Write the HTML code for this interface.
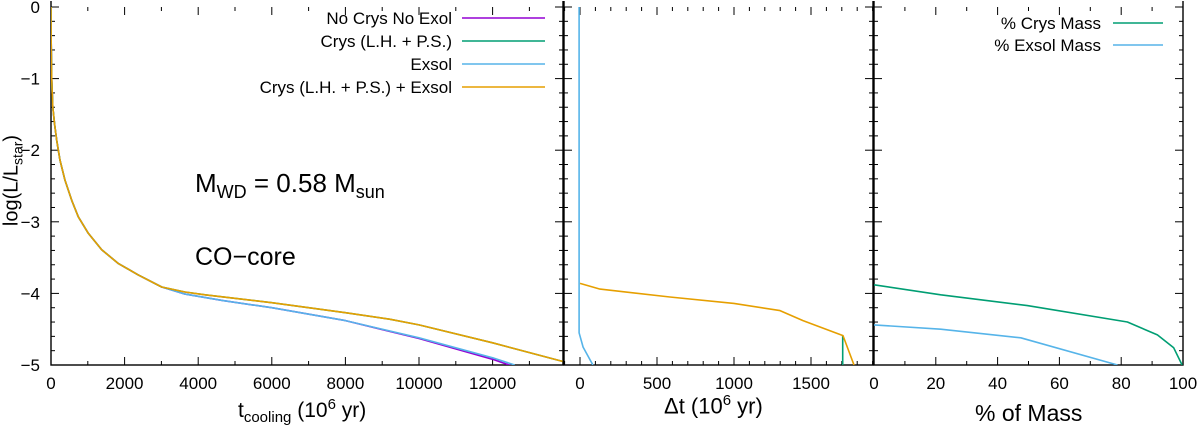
<!DOCTYPE html>
<html><head><meta charset="utf-8"><style>
body{margin:0;background:#fff}
svg{display:block;font-family:"Liberation Sans",sans-serif}
</style></head><body>
<svg id="c" width="1200" height="435" viewBox="0 0 1200 435"></svg>
<script>
const tCool=[0,5,20,50,100,155,245,380,562,742,1014,1378,1820,2364,3008];
const lCool=[0,-0.5,-1.0,-1.4,-1.65,-1.86,-2.14,-2.42,-2.7,-2.93,-3.16,-3.39,-3.58,-3.74,-3.91];
const tOrange=[3641,4185,6000,8000,9200,10000,12000,13900];
const lOrange=[-3.98,-4.02,-4.13,-4.27,-4.36,-4.44,-4.69,-4.95];
const tBlue=[3641,4670,6000,8000,10000,12000,12600];
const lBlue=[-4.01,-4.1,-4.2,-4.38,-4.62,-4.9,-5];
const tPurple=[3641,4670,6000,8000,10000,12000,12500];
const lPurple=[-4.01,-4.1,-4.2,-4.38,-4.63,-4.92,-5.01];
const dtBlue=[-6,-6,20,84];
const lDtBlue=[0,-4.55,-4.75,-5];
const dtOrange=[0,130,584,1000,1299,1448,1708,1779];
const lDtOrange=[-3.86,-3.94,-4.05,-4.14,-4.24,-4.38,-4.59,-5];
const dtGreen=[1706,1706];
const lDtGreen=[-4.59,-5];
const pcCrys=[0,21.6,49.6,82,91.7,97,99.7];
const lCrys=[-3.88,-4.02,-4.17,-4.4,-4.58,-4.76,-5];
const pcExsol=[0,21.6,47.5,78.8];
const lExsol=[-4.44,-4.5,-4.62,-5];
const yTicks=[0,-1,-2,-3,-4,-5];
const x1Ticks=[0,2000,4000,6000,8000,10000,12000];
const x2Ticks=[0,500,1000,1500];
const x3Ticks=[0,20,40,60,80,100];

const NS="http://www.w3.org/2000/svg";
const svg=document.getElementById('c');
function el(t,a,p){const e=document.createElementNS(NS,t);for(const k in a)e.setAttribute(k,a[k]);(p||svg).appendChild(e);return e;}
const Y0=7,Y1=365;
const y=v=>Y0+(0-v)/5*(Y1-Y0);
const P1={l:51,r:563,x:v=>51+v*0.0368};
const P2={l:564,r:873,x:v=>580+v*0.154};
const P3={l:874,r:1183,x:v=>874+v*3.09};
[P1,P2,P3].forEach((P,i)=>{const c=el('clipPath',{id:'cp'+i});el('rect',{x:P.l,y:Y0,width:P.r-P.l,height:Y1-Y0},c);});
function frame(P,xt,minorStep,xmin,xmax,name){
  const g=el('g',{});
  
  
  for(let v=-5;v<=0.001;v+=0.2){const yy=y(v);const maj=Math.abs(v-Math.round(v))<0.01;const L=maj?8:4;
    el('line',{x1:P.l,x2:P.l+L,y1:yy,y2:yy,stroke:'#000','stroke-width':1},g);
    el('line',{x1:P.r,x2:P.r-L,y1:yy,y2:yy,stroke:'#000','stroke-width':1},g);}
  for(let v=Math.ceil(xmin/minorStep)*minorStep;v<=xmax;v+=minorStep){const xx=P.x(v);const maj=xt.includes(v);const L=maj?8:4;
    el('line',{x1:xx,x2:xx,y1:Y1,y2:Y1-L,stroke:'#000','stroke-width':1},g);
    el('line',{x1:xx,x2:xx,y1:Y0,y2:Y0+L,stroke:'#000','stroke-width':1},g);}
  xt.forEach(v=>{const t=el('text',{x:P.x(v),y:Y1+24,'font-size':17,'text-anchor':'middle'},g);t.textContent=v;});
  el('rect',{x:P.l,y:Y0-10,width:P.r-P.l,height:Y1-Y0+10,fill:'none',stroke:'#000','stroke-width':1.4},g);
}
frame(P1,x1Ticks,1000,0,13900,'panel-cooling-frame');
frame(P2,x2Ticks,100,-100,1900,'panel-dt-frame');
frame(P3,x3Ticks,10,0,100,'panel-mass-frame');
el('rect',{x:0,y:0,width:1200,height:1,fill:'#fff'});
yTicks.forEach(v=>{const t=el('text',{x:40,y:y(v)+6,'font-size':17,'text-anchor':'end'});t.textContent=v===0?'0':'\u2212'+(-v);
 });

function lineG(g,P,xs,ys,col,name){const p=el('polyline',{points:xs.map((v,i)=>P.x(v).toFixed(1)+','+y(ys[i]).toFixed(1)).join(' '),fill:'none',stroke:col,'stroke-width':1.6,'stroke-linejoin':'round'},g);
 }
const C={p:'#9400d3',g:'#009e73',b:'#56b4e9',o:'#e69f00'};
const g1=el('g',{'clip-path':'url(#cp0)'});
lineG(g1,P1,tCool.concat(tPurple),lCool.concat(lPurple),C.p,'no-crys-curve');
lineG(g1,P1,tCool.concat(tBlue),lCool.concat(lBlue),C.b,'exsol-curve');
lineG(g1,P1,tCool.concat(tOrange),lCool.concat(lOrange),C.g,'crys-curve');
lineG(g1,P1,tCool.concat(tOrange),lCool.concat(lOrange),C.o,'crys-exsol-curve');
const g2=el('g',{'clip-path':'url(#cp1)'});
lineG(g2,P2,dtBlue,lDtBlue,C.b,'dt-exsol-curve');
lineG(g2,P2,dtGreen,lDtGreen,C.g,'dt-crys-curve');
lineG(g2,P2,dtOrange,lDtOrange,C.o,'dt-crys-exsol-curve');
const g3=el('g',{'clip-path':'url(#cp2)'});
lineG(g3,P3,pcCrys,lCrys,C.g,'crys-mass-curve');
lineG(g3,P3,pcExsol,lExsol,C.b,'exsol-mass-curve');

function leg(tx,ty,lx1,lx2,label,col,name){const g=el('g',{});
 const t=el('text',{x:tx,y:ty+6,'font-size':17,'text-anchor':'end'},g);t.textContent=label;
 el('line',{x1:lx1,x2:lx2,y1:ty,y2:ty,stroke:col,'stroke-width':1.6},g);}
leg(452,18,462,545,'No Crys No Exol',C.p,'legend-no-crys');
leg(452,41,462,545,'Crys (L.H. + P.S.)',C.g,'legend-crys');
leg(452,64,462,545,'Exsol',C.b,'legend-exsol');
leg(452,87,462,545,'Crys (L.H. + P.S.) + Exsol',C.o,'legend-crys-exsol');
leg(1101,23,1113,1163,'% Crys Mass',C.g,'legend-crys-mass');
leg(1101,45,1113,1163,'% Exsol Mass',C.b,'legend-exsol-mass');
</script>
<div style="position:absolute;left:0;top:0;width:1200px;height:435px;pointer-events:none;font-family:'Liberation Sans',sans-serif;color:#000">
<div style="position:absolute;left:195px;top:168px;font-size:26px;white-space:nowrap">M<sub style="font-size:18px">WD</sub> = 0.58 M<sub style="font-size:18px">sun</sub></div>
<div style="position:absolute;left:195px;top:243px;font-size:25px">CO−core</div>
<div style="position:absolute;left:238px;top:396px;font-size:21px;white-space:nowrap">t<sub style="font-size:15px">cooling</sub> (10<sup style="font-size:15px">6</sup> yr)</div>
<div style="position:absolute;left:664px;top:392px;font-size:22px;white-space:nowrap">Δt (10<sup style="font-size:15px">6</sup> yr)</div>
<div style="position:absolute;left:975px;top:400px;font-size:23px;white-space:nowrap">% of Mass</div>
<div style="position:absolute;left:-62px;top:168px;width:150px;text-align:center;font-size:20px;transform:rotate(-90deg);white-space:nowrap">log(L/L<sub style="font-size:14px">star</sub>)</div>
</div>
</body></html>
